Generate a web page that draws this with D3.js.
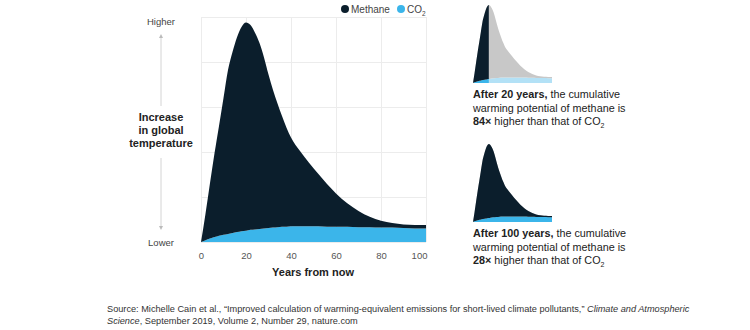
<!DOCTYPE html>
<html>
<head>
<meta charset="utf-8">
<script src="https://cdn.jsdelivr.net/npm/d3@7"></script>
<style>
  body { margin: 0; background: #fff; }
  svg { font-family: "Liberation Sans", Arial, sans-serif; }
</style>
</head>
<body>
<script>
// years from now
var years = [0, 2, 4, 6, 8, 10, 12, 14, 16, 18, 20, 22, 24, 26, 28, 30, 32, 34, 36, 38, 40,
             44, 48, 52, 56, 60, 65, 70, 75, 80, 85, 90, 95, 100];
// temperature increase from CO2 (bottom layer)
var co2 = [0, 0.04, 0.08, 0.11, 0.14, 0.16, 0.18, 0.2, 0.22, 0.24, 0.25, 0.27, 0.28, 0.29, 0.3, 0.31,
           0.32, 0.33, 0.34, 0.34, 0.35, 0.35, 0.35, 0.35, 0.34, 0.34, 0.34, 0.33, 0.33, 0.32, 0.32,
           0.31, 0.3, 0.3];
// extra temperature increase from methane (stacked on top)
var methane = [0, 0.59, 1.23, 1.86, 2.44, 3.04, 3.64, 4.02, 4.33, 4.54, 4.63, 4.55, 4.37, 4.13, 3.8,
               3.41, 3.06, 2.75, 2.46, 2.2, 1.97, 1.67, 1.41, 1.17, 0.95, 0.74, 0.52, 0.36, 0.23,
               0.15, 0.1, 0.08, 0.08, 0.08];
var xTicks = [0, 20, 40, 60, 80, 100];
var yGrid = [0, 1, 2, 3, 4, 5];

var navy = "#0b1e2c", blue = "#3bb5ea";

var rows = years.map(function(y, i){ return {year: y, co2: co2[i], methane: methane[i]}; });
var stacked = d3.stack().keys(["co2", "methane"])(rows);

var svg = d3.select("body").append("svg")
    .attr("width", 750)
    .attr("height", 330);

// ---- main chart ----
var x = d3.scaleLinear().domain([0, 100]).range([201, 426]);
var y = d3.scaleLinear().domain([0, 5]).range([242, 17]);

var grid = svg.append("g").attr("stroke", "#ececec").attr("stroke-width", 1);
grid.selectAll("line.h").data(yGrid).enter().append("line")
    .attr("x1", x(0)).attr("x2", x(100))
    .attr("y1", function(d){ return y(d) + 0.5; })
    .attr("y2", function(d){ return y(d) + 0.5; });
grid.selectAll("line.v").data(xTicks).enter().append("line")
    .attr("y1", y(0)).attr("y2", y(5))
    .attr("x1", function(d){ return x(d) + 0.5; })
    .attr("x2", function(d){ return x(d) + 0.5; });

var area = function(xs, ys){
  return d3.area()
    .x(function(d){ return xs(d.data.year); })
    .y0(function(d){ return ys(d[0]); })
    .y1(function(d){ return ys(d[1]); })
    .curve(d3.curveMonotoneX);
};

var colors = {co2: blue, methane: navy};
svg.append("g").selectAll("path").data(stacked).enter().append("path")
    .attr("d", area(x, y))
    .attr("fill", function(d){ return colors[d.key]; });

var xAxis = svg.append("g")
    .attr("transform", "translate(0," + y(0) + ")")
    .call(d3.axisBottom(x).tickValues(xTicks).tickSize(0).tickPadding(10));
xAxis.select(".domain").remove();
xAxis.selectAll("text")
    .attr("fill", "#555").style("font-size", "9.5px")
    .attr("text-anchor", function(d){ return d == 100 ? "end" : "middle"; })
    .attr("dx", function(d){ return d == 100 ? "0.1em" : 0; });

svg.append("text")
   .attr("x", 313).attr("y", 276)
   .attr("text-anchor", "middle")
   .style("font-size", "11px").style("font-weight", "bold").attr("fill", "#222")
   .text("Years from now");

// legend
var legend = [{name: "Methane", color: navy, x: 345}, {name: "CO", sub: "2", color: blue, x: 401}];
var lg = svg.selectAll("g.legend").data(legend).enter().append("g")
    .attr("transform", function(d){ return "translate(" + d.x + ",9)"; });
lg.append("circle").attr("r", 4).attr("fill", function(d){ return d.color; });
var lt = lg.append("text").attr("x", 6).attr("y", 3.5)
    .style("font-size", "10px").attr("fill", "#444");
lt.append("tspan").text(function(d){ return d.name; });
lt.filter(function(d){ return d.sub; }).append("tspan")
    .attr("dy", 3).style("font-size", "6.5px").text(function(d){ return d.sub; });

// vertical label with arrows
var lx = 161;
var yl = svg.append("g").attr("text-anchor", "middle");
yl.append("text").attr("x", lx).attr("y", 25).style("font-size", "9.5px").attr("fill", "#444").text("Higher");
yl.append("text").attr("x", lx).attr("y", 246).style("font-size", "9.5px").attr("fill", "#444").text("Lower");
["Increase", "in global", "temperature"].forEach(function(t, i){
  yl.append("text").attr("x", lx).attr("y", 121 + i * 12.8)
    .style("font-size", "11px").style("font-weight", "bold").attr("fill", "#222").text(t);
});
yl.append("line").attr("x1", lx).attr("x2", lx).attr("y1", 36).attr("y2", 106).attr("stroke", "#d4d4d4");
yl.append("line").attr("x1", lx).attr("x2", lx).attr("y1", 158).attr("y2", 228).attr("stroke", "#d4d4d4");
yl.append("path").attr("d", "M" + (lx - 2) + ",38L" + lx + ",34L" + (lx + 2) + ",38Z").attr("fill", "#bbb");
yl.append("path").attr("d", "M" + (lx - 2) + ",226L" + lx + ",230L" + (lx + 2) + ",226Z").attr("fill", "#bbb");

// ---- small charts ----
function smallChart(top, cutoff, lines){
  var sx = d3.scaleLinear().domain([0, 100]).range([473, 552]);
  var sy = d3.scaleLinear().domain([0, 5]).range([top + 80, top]);
  var g = svg.append("g");
  var id = "clip" + cutoff;
  g.append("clipPath").attr("id", id).append("rect")
      .attr("x", sx(0)).attr("y", top - 5).attr("width", sx(cutoff) - sx(0)).attr("height", 90);
  var faded = {co2: "#b3e1f6", methane: "#c8c8c8"};
  g.selectAll("path.f").data(stacked).enter().append("path")
      .attr("d", area(sx, sy))
      .attr("fill", function(d){ return faded[d.key]; });
  g.append("g").attr("clip-path", "url(#" + id + ")")
    .selectAll("path").data(stacked).enter().append("path")
      .attr("d", area(sx, sy))
      .attr("fill", function(d){ return colors[d.key]; });

  var ty = top + 95;
  lines.forEach(function(parts, i){
    var t = g.append("text").attr("x", 473).attr("y", ty + i * 13.5)
        .style("font-size", "10.8px").attr("fill", "#222");
    parts.forEach(function(p){
      var s = t.append("tspan").text(p.t);
      if(p.b) s.style("font-weight", "bold");
      if(p.sub) s.attr("dy", 3).style("font-size", "7px");
    });
  });
}

smallChart(3, 20, [
  [{t: "After 20 years,", b: true}, {t: " the cumulative"}],
  [{t: "warming potential of methane is"}],
  [{t: "84×", b: true}, {t: " higher than that of CO"}, {t: "2", sub: true}]
]);
smallChart(142, 100, [
  [{t: "After 100 years,", b: true}, {t: " the cumulative"}],
  [{t: "warming potential of methane is"}],
  [{t: "28×", b: true}, {t: " higher than that of CO"}, {t: "2", sub: true}]
]);

// ---- source ----
var src = svg.append("text").attr("x", 107).attr("y", 312)
    .style("font-size", "9.2px").attr("fill", "#333");
src.append("tspan").text("Source: Michelle Cain et al., \u201cImproved calculation of warming-equivalent emissions for short-lived climate pollutants,\u201d ");
src.append("tspan").style("font-style", "italic").text("Climate and Atmospheric");
svg.append("text").attr("x", 107).attr("y", 324)
    .style("font-size", "9.2px").attr("fill", "#333")
  .call(function(t){
    t.append("tspan").style("font-style", "italic").text("Science");
    t.append("tspan").text(", September 2019, Volume 2, Number 29, nature.com");
  });
</script>
</body>
</html>
